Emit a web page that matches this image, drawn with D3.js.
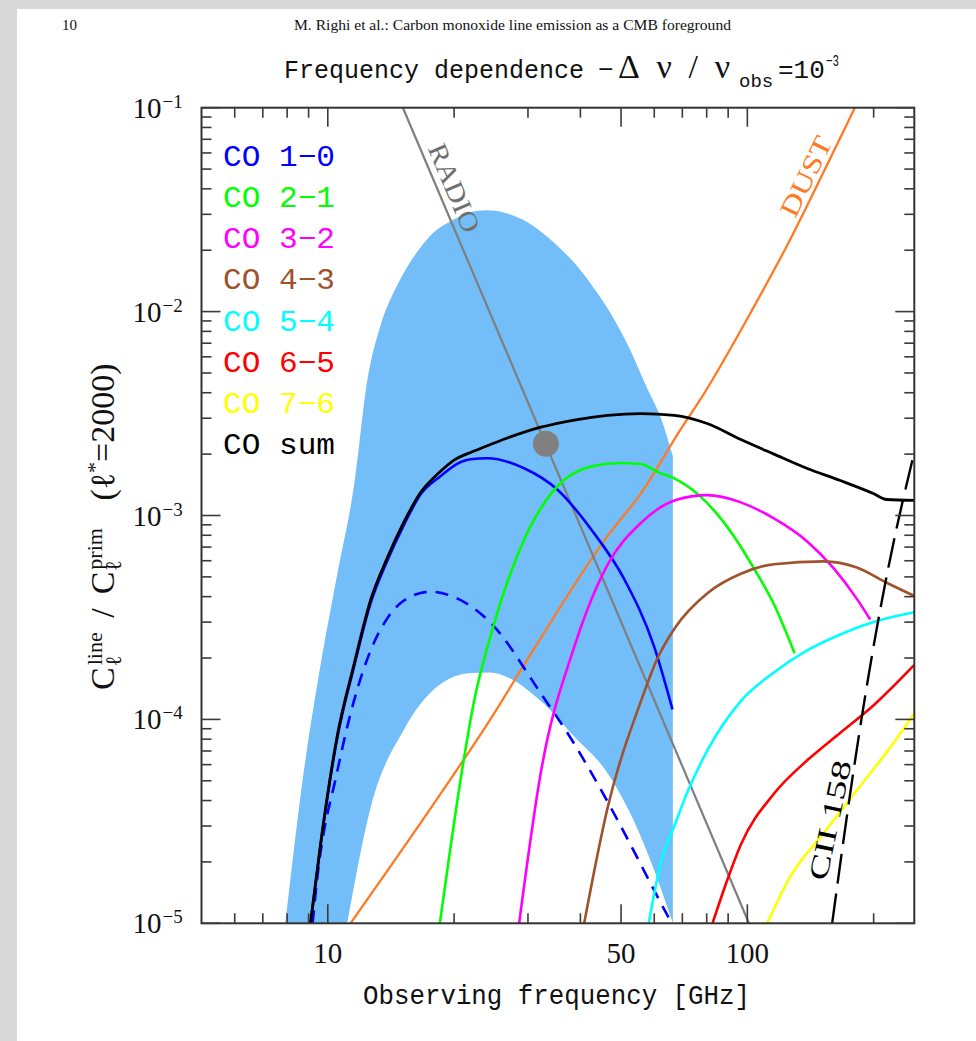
<!DOCTYPE html>
<html>
<head>
<meta charset="utf-8">
<script src="https://cdn.jsdelivr.net/npm/d3@7"></script>
<style>
html,body{margin:0;padding:0;background:#fff;}
svg{display:block;}
</style>
</head>
<body>
<svg id="chart" width="976" height="1041"></svg>
<script>
// ---------------- data ----------------
const xMajorTicks = [10, 50, 100];
const xMinorTicks = [6, 7, 8, 9, 20, 30, 40, 60, 70, 80, 90, 200];
const xTickLabels = ["10", "50", "100"];
const yDecades = [-5, -4, -3, -2, -1];
const yTickLabels = ["−5", "−4", "−3", "−2", "−1"];

const legendLabels = ["CO 1−0", "CO 2−1", "CO 3−2", "CO 4−3", "CO 5−4", "CO 6−5", "CO 7−6", "CO sum"];
const legendColors = ["#0000ff", "#00ff00", "#ff00ff", "#a0522d", "#00ffff", "#ff0000", "#ffff00", "#000000"];

// [frequency GHz, C_line / C_prim]
const bandUpper = [[7.92,1e-5],[8.76,5.5e-5],[9.61,1.85e-4],[10.52,5.08e-4],[11.54,1.39e-3],[12.44,4.68e-3],
  [13.31,8.35e-3],[14.68,1.361e-2],[16.18,1.91e-2],[17.84,2.439e-2],[19.67,2.783e-2],[21.69,3.056e-2],
  [23.9,3.138e-2],[26.35,3.056e-2],[29.06,2.835e-2],[32.05,2.486e-2],[35.3,2.099e-2],[38.96,1.705e-2],
  [42.96,1.311e-2],[47.37,9.70e-3],[52.23,6.66e-3],[57.6,4.24e-3],[62.24,3.0e-3],[66.45,1.95e-3]];
const bandLower = [[11.12,1e-5],[12.64,3.67e-5],[15.19,8.93e-5],[18.24,1.45e-4],[21.91,1.69e-4],[24.47,1.70e-4],
  [26.81,1.61e-4],[32.2,1.23e-4],[38.66,8.24e-5],[46.0,5.6e-5],[53.2,3.3e-5],[60.4,1.75e-5],[66.45,1e-5]];

const co10 = [[9.1,1e-5],[9.61,2.4e-5],[10.52,8.0e-5],[11.54,1.8e-4],[12.64,3.7e-4],[13.86,6.0e-4],[15.19,9.0e-4],
  [16.65,1.27e-3],[18.5,1.55e-3],[20.75,1.83e-3],[21.91,1.886e-3],[24.0,1.91e-3],[29.37,1.705e-3],
  [35.28,1.338e-3],[42.38,8.58e-4],[50.89,4.87e-4],[60.02,2.26e-4],[66.3,1.12e-4]];
const co10Low = [[9.2,1e-5],[9.43,1.64e-5],[10.52,5.5e-5],[11.54,1.23e-4],[12.64,2.17e-4],[13.86,3.13e-4],
  [15.19,3.83e-4],[17.59,4.23e-4],[20.0,3.98e-4],[24.47,2.97e-4],[32.2,1.34e-4],[38.66,7.6e-5],[42.0,5.7e-5],
  [50.4,2.89e-5],[60.4,1.41e-5],[66.0,1e-5]];
const co21 = [[18.5,1e-5],[21.12,6.46e-5],[22.32,1.23e-4],[24.7,2.77e-4],[29.37,7.6e-4],[35.28,1.393e-3],
  [42.38,1.738e-3],[49.07,1.81e-3],[55.78,1.788e-3],[61.1,1.637e-3],[67.0,1.52e-3],[77.46,1.234e-3],
  [92.88,7.92e-4],[103.7,5.5e-4],[115.7,3.67e-4],[129.6,2.11e-4]];
const co32 = [[28.58,1e-5],[32.2,5.5e-5],[38.66,2.26e-4],[46.42,5.73e-4],[55.78,9.2e-4],[67.5,1.19e-3],
  [80.19,1.259e-3],[96.47,1.16e-3],[115.7,9.67e-4],[138.9,7.46e-4],[160.7,5.5e-4],[182.4,3.9e-4],[196.3,3.09e-4]];
const co43 = [[40.84,1e-5],[46.42,3.67e-5],[55.78,1.23e-4],[61.1,2.0e-4],[67.5,2.85e-4],[80.19,4.15e-4],
  [96.47,5.18e-4],[115.7,5.77e-4],[152.1,5.96e-4],[182.4,5.56e-4],[214.9,4.68e-4],[250,4.03e-4]];
const co54 = [[58.2,1e-5],[62.25,2.0e-5],[66.98,3.0e-5],[72.3,4.5e-5],[80.19,7.01e-5],[96.47,1.23e-4],
  [115.7,1.7e-4],[138.9,2.18e-4],[166.6,2.61e-4],[199.7,3.0e-4],[250,3.35e-4]];
const co65 = [[82.6,1e-5],[89.66,1.64e-5],[96.47,2.43e-5],[115.7,4.32e-5],[138.9,6.3e-5],[166.6,8.6e-5],
  [199.7,1.17e-4],[250,1.85e-4]];
const co76 = [[111.5,1e-5],[126.7,1.70e-5],[152.1,2.77e-5],[182.4,4.49e-5],[219.1,7.29e-5],[250,1.07e-4]];
const coSum = [[9.09,1e-5],[9.61,2.45e-5],[10.52,8.2e-5],[11.54,1.85e-4],[12.64,3.83e-4],[13.86,6.2e-4],
  [15.19,9.3e-4],[16.65,1.30e-3],[18.4,1.62e-3],[20.0,1.87e-3],[22.32,2.07e-3],[24.0,2.20e-3],[26.81,2.40e-3],
  [32.2,2.71e-3],[38.66,2.94e-3],[46.42,3.10e-3],[55.8,3.16e-3],[67.0,3.10e-3],[80.2,2.825e-3],[96.5,2.358e-3],
  [115.7,2.0e-3],[138.9,1.70e-3],[166.6,1.484e-3],[199.7,1.282e-3],[214.9,1.198e-3],[250,1.185e-3]];
const cii158 = [[159.3,1e-5],[168.4,2.32e-5],[177.9,5.10e-5],[187.9,1.062e-4],[204.0,2.88e-4],[213.5,4.73e-4],
  [225.6,8.22e-4],[236.1,1.246e-3],[250,2.04e-3]];
const dust = [[11.33,1e-5],[18.58,4.32e-5],[24.47,1.01e-4],[29.37,1.85e-4],[46.42,7.92e-4],[55.78,1.285e-3],
  [69.45,2.657e-3],[78.65,3.93e-3],[103.4,1.046e-2],[125.7,2.2e-2],[152.4,4.895e-2],[180.4,0.1]];
const radio = [[15.1,0.1],[100.9,1e-5]];
const radioMarker = [33.1, 2.25e-3];

const radioLabelAt = [20.0, 0.0404];
const dustLabelAt = [138, 0.046];
const ciiLabelAt = [157.5, 3.2e-5];

// ---------------- layout ----------------
const W = 976, H = 1041;
const P = {left: 201.5, right: 914.3, top: 107.7, bottom: 923.3};
const svg = d3.select("#chart");
const serif = "Liberation Serif, DejaVu Serif, serif";
const mono = "Liberation Mono, DejaVu Sans Mono, monospace";

svg.append("rect").attr("width", W).attr("height", H).attr("fill", "#ffffff");
svg.append("rect").attr("x", 0).attr("y", 0).attr("width", W).attr("height", 9).attr("fill", "#d8d8d8");
svg.append("rect").attr("x", 0).attr("y", 0).attr("width", 17).attr("height", H).attr("fill", "#d8d8d8");

const x = d3.scaleLog().domain([5, 250]).range([P.left, P.right]);
const y = d3.scaleLog().domain([1e-5, 1e-1]).range([P.bottom, P.top]);

svg.append("defs").append("clipPath").attr("id", "clip")
  .append("rect").attr("x", P.left).attr("y", P.top)
  .attr("width", P.right - P.left).attr("height", P.bottom - P.top);

const g = svg.append("g").attr("clip-path", "url(#clip)");

// band
const bandArea = d3.area().x(d => x(d[0])).y0(y(1e-5)).y1(d => y(d[1])).curve(d3.curveMonotoneX);
g.append("path").attr("d", bandArea(bandUpper) + bandArea(bandLower))
  .attr("fill", "#73bef8").attr("fill-rule", "evenodd");

const line = d3.line().x(d => x(d[0])).y(d => y(d[1])).curve(d3.curveMonotoneX);
function drawLine(data, color, width, dash) {
  const p = g.append("path").attr("d", line(data)).attr("fill", "none")
    .attr("stroke", color).attr("stroke-width", width).attr("stroke-linejoin", "round");
  if (dash) p.attr("stroke-dasharray", dash);
  return p;
}

drawLine(dust, "#ff7a22", 2.3);
drawLine(radio, "#7f7f7f", 2.2);
drawLine(co10Low, "#0000ff", 2.6, "13,9");
drawLine(co10, "#0000ff", 2.6);
drawLine(co21, "#00ff00", 2.6);
drawLine(co32, "#ff00ff", 2.6);
drawLine(co43, "#a0522d", 2.6);
drawLine(co54, "#00ffff", 2.6);
drawLine(co65, "#ff0000", 2.6);
drawLine(co76, "#ffff00", 2.6);
drawLine(coSum, "#000000", 2.8);
drawLine(cii158, "#000000", 2.4, "30,10");

g.append("circle").attr("cx", x(radioMarker[0])).attr("cy", y(radioMarker[1])).attr("r", 13)
  .attr("fill", "#808080");

// in-plot labels
function rotLabel(at, txt, angle, color, size, len) {
  svg.append("text")
    .attr("transform", `translate(${x(at[0])},${y(at[1])}) rotate(${angle})`)
    .attr("text-anchor", "middle").attr("dominant-baseline", "central")
    .attr("font-family", serif)
    .attr("font-size", size).attr("fill", color)
    .attr("textLength", len).attr("lengthAdjust", "spacingAndGlyphs")
    .text(txt);
}
rotLabel(radioLabelAt, "RADIO", 67, "#6f6f6f", 27, 94);
rotLabel(dustLabelAt, "DUST", -64, "#ff7a22", 27, 86);
rotLabel(ciiLabelAt, "CII  158", -78, "#000000", 27, 122);

// frame
svg.append("rect").attr("x", P.left).attr("y", P.top)
  .attr("width", P.right - P.left).attr("height", P.bottom - P.top)
  .attr("fill", "none").attr("stroke", "#333").attr("stroke-width", 2);

// ticks
const tk = svg.append("g").attr("stroke", "#3a3a3a").attr("stroke-width", 1.6);
function xTick(v, len) {
  tk.append("line").attr("x1", x(v)).attr("x2", x(v)).attr("y1", P.bottom).attr("y2", P.bottom - len);
  tk.append("line").attr("x1", x(v)).attr("x2", x(v)).attr("y1", P.top).attr("y2", P.top + len);
}
xMajorTicks.forEach(v => xTick(v, 19));
xMinorTicks.forEach(v => xTick(v, 10));
function yTick(v, len) {
  tk.append("line").attr("y1", y(v)).attr("y2", y(v)).attr("x1", P.left).attr("x2", P.left + len);
  tk.append("line").attr("y1", y(v)).attr("y2", y(v)).attr("x1", P.right).attr("x2", P.right - len);
}
yDecades.forEach(e => {
  yTick(Math.pow(10, e), 19);
  if (e < -1) for (let k = 2; k <= 9; k++) yTick(k * Math.pow(10, e), 10);
});

// tick labels
xMajorTicks.forEach((v, i) => {
  svg.append("text").attr("x", x(v)).attr("y", P.bottom + 40)
    .attr("text-anchor", "middle").attr("font-family", serif).attr("font-size", 29)
    .attr("fill", "#111").text(xTickLabels[i]);
});
yDecades.forEach((e, i) => {
  const yy = y(Math.pow(10, e));
  const t = svg.append("text").attr("x", P.left - 69).attr("y", yy + 10)
    .attr("font-family", serif).attr("font-size", 29).attr("fill", "#111");
  t.append("tspan").text("10");
  t.append("tspan").attr("dx", 1).attr("dy", -10).attr("font-size", 19).text(yTickLabels[i]);
});

// legend
legendLabels.forEach((t, i) => {
  svg.append("text").attr("x", P.left + 21.5).attr("y", P.top + 58 + i * 41.2)
    .attr("font-family", mono).attr("font-size", 30).attr("fill", legendColors[i])
    .attr("textLength", 112).attr("lengthAdjust", "spacingAndGlyphs").text(t);
});

// x axis title
svg.append("text").attr("x", 363).attr("y", 1004)
  .attr("font-family", mono).attr("font-size", 27).attr("fill", "#111")
  .attr("textLength", 387).attr("lengthAdjust", "spacingAndGlyphs")
  .text("Observing frequency [GHz]");

// y axis title (reads bottom to top, starts near the bottom of the frame)
const yl = svg.append("text")
  .attr("transform", "translate(114,690) rotate(-90)")
  .attr("text-anchor", "start").attr("font-family", serif).attr("font-size", 34).attr("fill", "#111");
yl.append("tspan").text("C");
yl.append("tspan").attr("font-size", 22).attr("dx", 2).attr("dy", -12).text("line");
yl.append("tspan").attr("font-size", 22).attr("dx", -34).attr("dy", 19).text("ℓ");
yl.append("tspan").attr("dx", 38).attr("dy", -7).text("/");
yl.append("tspan").attr("dx", 14).text("C");
yl.append("tspan").attr("font-size", 22).attr("dx", 2).attr("dy", -12).text("prim");
yl.append("tspan").attr("font-size", 22).attr("dx", -43).attr("dy", 19).text("ℓ");
yl.append("tspan").attr("dx", 60).attr("dy", -7).text("(ℓ");
yl.append("tspan").attr("font-size", 22).attr("dy", -12).text("*");
yl.append("tspan").attr("dy", 12).text("=2000)");

// title
const tt = svg.append("text").attr("y", 78).attr("font-family", mono).attr("font-size", 26).attr("fill", "#111");
tt.append("tspan").attr("x", 284).attr("textLength", 300).attr("lengthAdjust", "spacingAndGlyphs").text("Frequency dependence");
tt.append("tspan").attr("x", 598).text("−");
tt.append("tspan").attr("x", 618).attr("font-family", serif).attr("font-size", 34)
  .attr("textLength", 112).attr("lengthAdjust", "spacing").text("Δν/ν");
tt.append("tspan").attr("x", 739).attr("dy", 9).attr("font-size", 19).text("obs");
tt.append("tspan").attr("x", 778).attr("dy", -9).attr("font-size", 26).text("=10");
tt.append("tspan").attr("x", 826).attr("dy", -12).attr("font-size", 16).attr("textLength", 13).attr("lengthAdjust", "spacingAndGlyphs").text("−3");

// page header
svg.append("text").attr("x", 62).attr("y", 30).attr("font-family", serif).attr("font-size", 15).attr("fill", "#111").text("10");
svg.append("text").attr("x", 294).attr("y", 30).attr("font-family", serif).attr("font-size", 15).attr("fill", "#111")
  .attr("textLength", 437).attr("lengthAdjust", "spacingAndGlyphs")
  .text("M. Righi et al.: Carbon monoxide line emission as a CMB foreground");
</script>
</body>
</html>
